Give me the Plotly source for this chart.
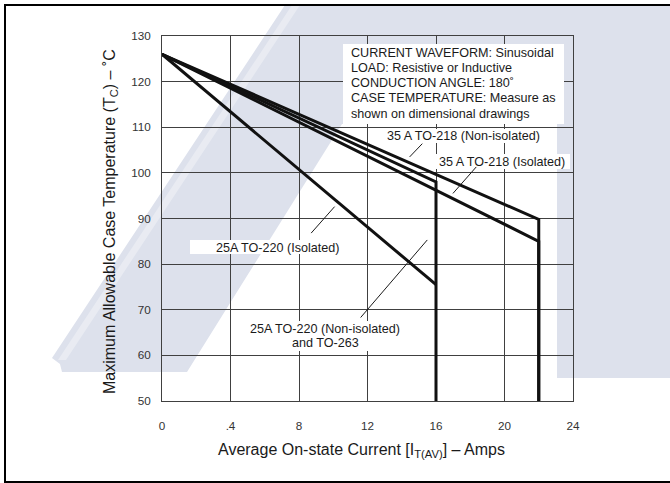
import plotly.graph_objects as go

# canvas / margins (pixels)
W, H = 670, 483
ML, MR, MT, MB = 162, 97, 36, 82

# derating curves: current (A) vs max case temp (C)
amps_35a_nonisolated = [0, 22, 22]
temp_35a_nonisolated = [126, 89.8, 50]
amps_35a_isolated = [0, 22, 22]
temp_35a_isolated = [126, 85, 50]
amps_25a_nonisolated = [0, 16, 16]
temp_25a_nonisolated = [126, 98, 50]
amps_25a_isolated = [0, 16]
temp_25a_isolated = [126, 75.5]

x_tickvals = [0, 4, 8, 12, 16, 20, 24]
x_ticktext = ["0", ".4", "8", "12", "16", "20", "24"]
y_tickvals = [50, 60, 70, 80, 90, 100, 110, 120, 130]

note_lines = ["CURRENT WAVEFORM: Sinusoidal",
              "LOAD: Resistive or Inductive",
              "CONDUCTION ANGLE: 180˚",
              "CASE TEMPERATURE: Measure as",
              "shown on dimensional drawings"]

FONT = "Liberation Sans, Arial, Helvetica, sans-serif"
INK = "#1a1a1a"
GRID = "#404040"
WM = "#dde1ec"


def px(x):
    return (x - ML) / (W - ML - MR)


def py(y):
    return (H - MB - y) / (H - MT - MB)


def path_from(points):
    s = "M " + " L ".join(f"{px(a):.5f},{py(b):.5f}" for a, b in points)
    return s + " Z"


def white_box(x0, y0, x1, y1):
    return dict(type="rect", xref="paper", yref="paper", x0=px(x0), x1=px(x1),
                y0=py(y1), y1=py(y0), fillcolor="white", line=dict(width=0),
                layer="above")


fig = go.Figure()
for xs, ys in [(amps_35a_nonisolated, temp_35a_nonisolated),
               (amps_35a_isolated, temp_35a_isolated),
               (amps_25a_nonisolated, temp_25a_nonisolated),
               (amps_25a_isolated, temp_25a_isolated)]:
    fig.add_trace(go.Scatter(x=xs, y=ys, mode="lines",
                             line=dict(color="#111111", width=3),
                             hoverinfo="skip", showlegend=False))

# watermark behind the plot
watermark = [(285, 5), (700, 5), (700, 378), (557, 378), (557, 124), (342, 124),
             (187, 372), (62, 372), (60, 364), (52, 358)]
stripe = [(292, 5), (300, 5), (66, 360), (58, 360)]
shapes = [
    dict(type="path", xref="paper", yref="paper", path=path_from(watermark),
         fillcolor=WM, line=dict(width=0), layer="below"),
    dict(type="path", xref="paper", yref="paper", path=path_from(stripe),
         fillcolor="rgba(255,255,255,0.35)", line=dict(width=0), layer="below"),
    # outer frame
    dict(type="rect", xref="paper", yref="paper", x0=px(5), x1=px(720),
         y0=py(482), y1=py(5), line=dict(color="black", width=2),
         fillcolor="rgba(0,0,0,0)", layer="above"),
    # label backgrounds
    white_box(343, 44, 564, 124),
    white_box(190, 240, 345, 254),
    white_box(383, 129, 543, 143),
    white_box(436, 154, 570, 169),
    white_box(246, 321, 403, 351),
]

# leader lines from labels to curves
leaders = [((14.46, 103.5), (15.2, 106.4)),
           ((16.99, 95.5), (18.35, 101.3)),
           ((8.71, 86.8), (10.08, 92.6)),
           ((11.6, 68.3), (15.49, 85.3))]
for (x0, y0), (x1, y1) in leaders:
    shapes.append(dict(type="line", xref="x", yref="y", x0=x0, y0=y0, x1=x1, y1=y1,
                       line=dict(color=INK, width=1), layer="above"))

lab = dict(family=FONT, size=12.6, color=INK)
annotations = []
for i, t in enumerate(note_lines):
    annotations.append(dict(text=t, x=px(349), y=py(52.7 + 15.25 * i),
                            xanchor="left", yanchor="middle", font=lab))
annotations += [
    dict(text="35 A TO-218 (Non-isolated)", x=px(463), y=py(136),
         xanchor="center", yanchor="middle", font=lab),
    dict(text="35 A TO-218 (Isolated)", x=px(502), y=py(161.7),
         xanchor="center", yanchor="middle", font=lab),
    dict(text="25A TO-220 (Isolated)", x=px(277), y=py(247.5),
         xanchor="center", yanchor="middle", font=lab),
    dict(text="25A TO-220 (Non-isolated)", x=px(324.5), y=py(329.3),
         xanchor="center", yanchor="middle", font=lab),
    dict(text="and TO-263", x=px(325.5), y=py(343.3),
         xanchor="center", yanchor="middle", font=lab),
    dict(text="Maximum Allowable Case Temperature (T<sub>C</sub>) – ˚C",
         x=px(110), y=py(222), xanchor="center", yanchor="middle", textangle=-90,
         font=dict(family=FONT, size=16, color=INK)),
    dict(text="Average On-state Current [I<sub>T(AV)</sub>] – Amps",
         x=px(361), y=py(450), xanchor="center", yanchor="middle",
         font=dict(family=FONT, size=16, color=INK)),
]
for a in annotations:
    a.update(xref="paper", yref="paper", showarrow=False)

axis_common = dict(showgrid=True, gridcolor=GRID, gridwidth=1, zeroline=False,
                   showline=True, mirror=True, linecolor=GRID, linewidth=1,
                   ticks="", tickfont=dict(family=FONT, size=11.7, color="#333333"),
                   fixedrange=True)

fig.update_layout(
    width=W, height=H,
    margin=dict(l=ML, r=MR, t=MT, b=MB, pad=0),
    paper_bgcolor="white", plot_bgcolor="rgba(0,0,0,0)",
    xaxis=dict(range=[0, 24], tickvals=x_tickvals, ticktext=x_ticktext,
               ticklabelstandoff=14, **axis_common),
    yaxis=dict(range=[50, 130], tickvals=y_tickvals,
               ticklabelstandoff=8, **axis_common),
    shapes=shapes, annotations=annotations, showlegend=False,
)

# page has a default 8px body margin; drop it so the figure sits at 0,0
fig.write_html("out.html", config={"displayModeBar": False},
               post_script="document.body.style.margin='0';")
